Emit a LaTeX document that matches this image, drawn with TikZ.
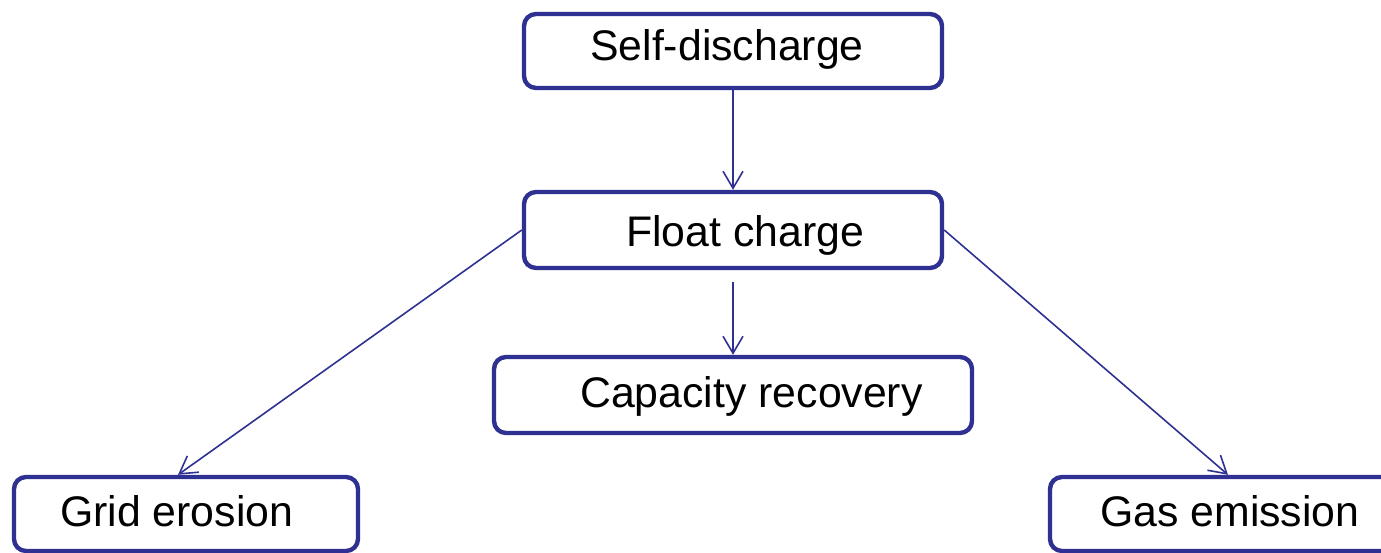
\documentclass[tikz,border=0pt]{standalone}
\usepackage{fontspec}
\setmainfont{Liberation Sans}
\usetikzlibrary{arrows.meta,calc}
\definecolor{navy}{RGB}{46,49,146}
\begin{document}
\begin{tikzpicture}[x=1pt,y=-1pt,
  box/.style={draw=navy,line width=4.4pt,rounded corners=12pt,inner sep=0pt},
  lbl/.style={anchor=base west,inner sep=0pt,font=\fontsize{42.8}{50}\selectfont},
  conn/.style={draw=navy,line width=1.6pt,-{Straight Barb[length=17pt,width=20pt,line width=1.6pt]}}]
\useasboundingbox (0,0) rectangle (1381,553);
\clip (0,0) rectangle (1381,553);
\node[box,minimum width=418pt,minimum height=74pt] (self) at (733,51) {};
\node[box,minimum width=418pt,minimum height=76pt] (float) at (733,230) {};
\node[box,minimum width=478pt,minimum height=76pt] (cap) at (733,395) {};
\node[box,minimum width=344pt,minimum height=74pt] (grid) at (186,514) {};
\node[box,minimum width=346pt,minimum height=74pt] (gas) at (1223,514) {};
\node[lbl] (tself) at (590,61) {Self-discharge};
\node[lbl] (tfloat) at (626,247) {Float charge};
\node[lbl] (tcap) at (580,407) {Capacity recovery};
\node[lbl] (tgrid) at (60,526) {Grid erosion};
\node[lbl] (tgas) at (1100,526) {Gas emission};
\coordinate (gridin) at ($(grid.north)+(-8,0)$);
\coordinate (gasin) at ($(gas.north)+(5,0)$);
\draw[conn] (self.south) -- (float.north);
\draw[conn,shorten <=12pt] (float.south) -- (cap.north);
\draw[conn] (float.west) -- (gridin);
\draw[conn] (float.east) -- (gasin);
\end{tikzpicture}
\end{document}
